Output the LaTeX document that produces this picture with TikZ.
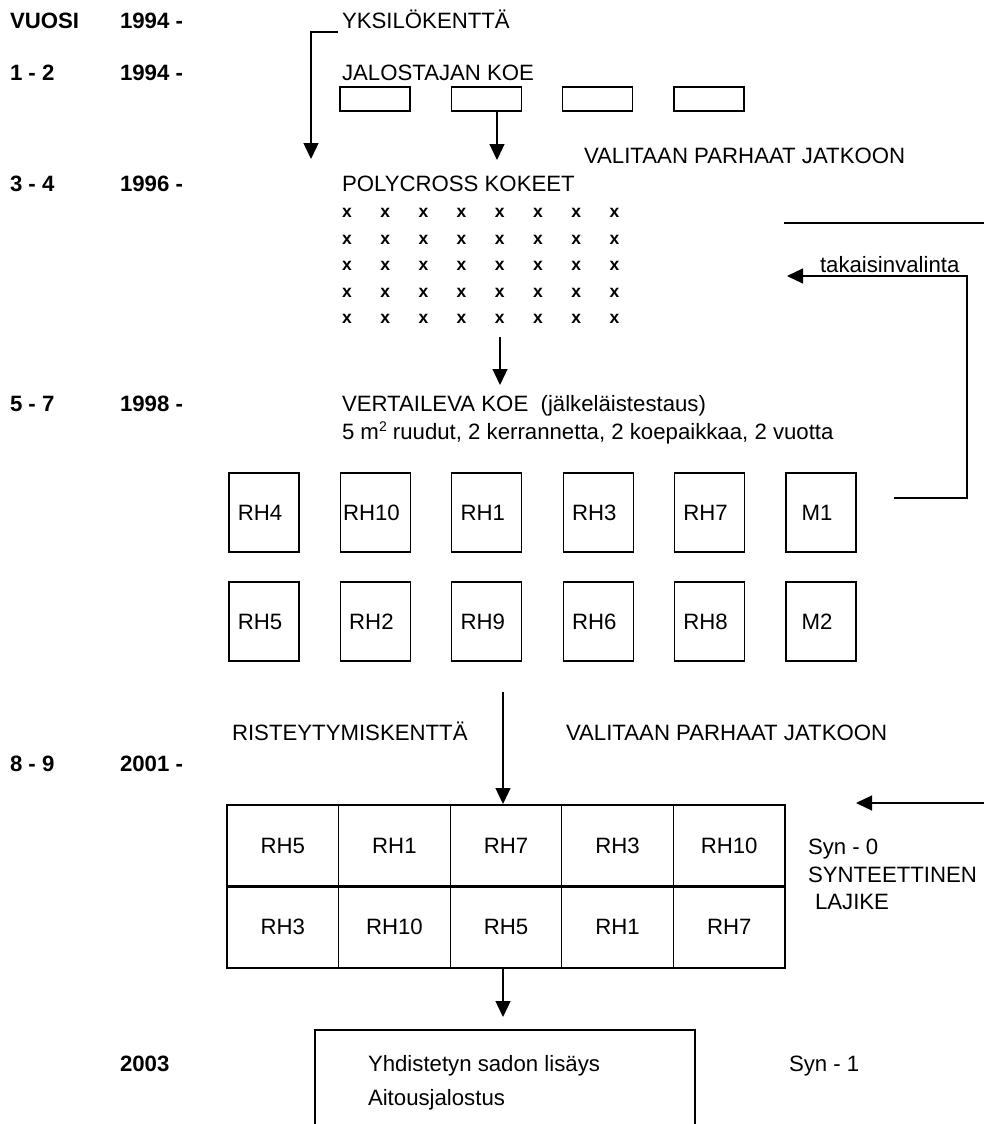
\documentclass[tikz,border=0pt]{standalone}
\usepackage{fontspec}
\setmainfont{Liberation Sans}
\usetikzlibrary{arrows.meta}
\begin{document}
\begin{tikzpicture}[x=1pt,y=-1pt,
  every node/.style={inner sep=0pt, outer sep=0pt},
  txt/.style={anchor=base west, font=\fontsize{22.2}{26}\selectfont},
  btxt/.style={anchor=base west, font=\fontsize{22.2}{26}\selectfont\bfseries},
  lbl/.style={font=\fontsize{22.2}{26}\selectfont},
  xmark/.style={font=\fontsize{17.5}{20}\selectfont\bfseries},
  ln/.style={line width=1.3pt},
  arr/.style={line width=1.3pt, -{Triangle[width=15pt,length=16pt]}},
  smallbox/.style={draw, line width=1.3pt, minimum width=70pt, minimum height=24pt},
  plot/.style={draw, line width=1.3pt, minimum width=70pt, minimum height=79pt},
  cell/.style={draw, line width=1.3pt, minimum width=111.6pt, minimum height=81.5pt,
    font=\fontsize{22.2}{26}\selectfont}
]
% page
\fill[white] (0,0) rectangle (984,1124);
\useasboundingbox (0,0) rectangle (984,1124);

% year column
\node[btxt] (lab0) at (10,29) {VUOSI};
\node[btxt] (yr0) at (120,29) {1994 -};
\node[btxt] (lab1) at (10,81) {1 - 2};
\node[btxt] (yr1) at (120,81) {1994 -};
\node[btxt] (lab2) at (10,191) {3 - 4};
\node[btxt] (yr2) at (120,191) {1996 -};
\node[btxt] (lab3) at (10,411) {5 - 7};
\node[btxt] (yr3) at (120,411) {1998 -};
\node[btxt] (lab4) at (10,771) {8 - 9};
\node[btxt] (yr4) at (120,771) {2001 -};
\node[btxt] (yr5) at (120,1071) {2003};

% single plant field and breeder trial
\node[txt] (yks) at (342,29) {YKSILÖKENTTÄ};
\node[txt] (jal) at (342,81) {JALOSTAJAN KOE};
\foreach \i in {0,...,3}
  \node[smallbox] (jb\i) at (375+111.3*\i,99) {};
\coordinate (yksEnd) at (338,32);
\coordinate (yksTip) at (311,159);
\draw[arr] (yksEnd) -| (yksTip);
\coordinate (jbOut) at (497,111);
\coordinate (jbTip) at (497,160);
\draw[arr] (jbOut) -- (jbTip);
\node[txt] (val1) at (584,163) {VALITAAN PARHAAT JATKOON};

% polycross
\node[txt] (poly) at (342,191) {POLYCROSS KOKEET};
\foreach \r in {0,...,4}
  \foreach \c in {0,...,7}
    \node[xmark] (x\r\c) at (347+38.2*\c,213+26.5*\r) {x};
\coordinate (pcOut) at (500,337);
\coordinate (pcTip) at (500,385);
\draw[arr] (pcOut) -- (pcTip);

% back selection
\coordinate (hl1) at (784,223);
\coordinate (hl2) at (984,223);
\draw[ln] (hl1) -- (hl2);
\node[txt] (tak) at (820,272) {takaisinvalinta};
\coordinate (bk1) at (894,498);
\coordinate (bk2) at (967,498);
\coordinate (bk3) at (967,276);
\coordinate (bk4) at (787,276);
\draw[arr] (bk1) -- (bk2) -- (bk3) -- (bk4);

% progeny test
\node[txt] (vert) at (342,411) {VERTAILEVA KOE\ \ (jälkeläistestaus)};
\node[txt] (vert2) at (342,439) {5 m\raisebox{7.5pt}{\fontsize{14}{14}\selectfont 2} ruudut, 2 kerrannetta, 2 koepaikkaa, 2 vuotta};
\foreach \i/\t/\u in {0/RH4/RH5,1/RH10/RH2,2/RH1/RH9,3/RH3/RH6,4/RH7/RH8,5/M1/M2} {
  \node[plot, label={[lbl,xshift=-4pt]center:\t}] (ra\i) at (264+111.4*\i,512.5) {};
  \node[plot, label={[lbl,xshift=-4pt]center:\u}] (rb\i) at (264+111.4*\i,621.5) {};
}
\coordinate (rhOut) at (503,692);
\coordinate (rhTip) at (503,804);
\draw[arr] (rhOut) -- (rhTip);
\node[txt] (rist) at (232,740) {RISTEYTYMISKENTTÄ};
\node[txt] (val2) at (566,740) {VALITAAN PARHAAT JATKOON};
\coordinate (ar1) at (984,803);
\coordinate (ar2) at (856,803);
\draw[arr] (ar1) -- (ar2);

% crossing field
\foreach \c/\t/\u in {0/RH5/RH3,1/RH1/RH10,2/RH7/RH5,3/RH3/RH1,4/RH10/RH7} {
  \node[cell] (ga\c) at (282.8+111.6*\c,845.75) {\t};
  \node[cell] (gb\c) at (282.8+111.6*\c,927.25) {\u};
}
\draw[line width=2.8pt] (ga0.south west) -- (ga4.south east);
\node[txt] (syn0) at (808,854) {Syn - 0};
\node[txt] (synt) at (808,882) {SYNTEETTINEN};
\node[txt] (laj) at (815,909) {LAJIKE};

% seed multiplication
\coordinate (gOut) at (503,968);
\coordinate (gTip) at (503,1017);
\draw[arr] (gOut) -- (gTip);
\coordinate (bb1) at (315,1124);
\coordinate (bb3) at (695,1030);
\coordinate (bb4) at (695,1124);
\draw[ln] (bb1) |- (bb3) -- (bb4);
\node[txt] (yhd) at (368,1071) {Yhdistetyn sadon lisäys};
\node[txt] (ait) at (368,1105) {Aitousjalostus};
\node[txt] (syn1) at (789,1071) {Syn - 1};
\end{tikzpicture}
\end{document}
